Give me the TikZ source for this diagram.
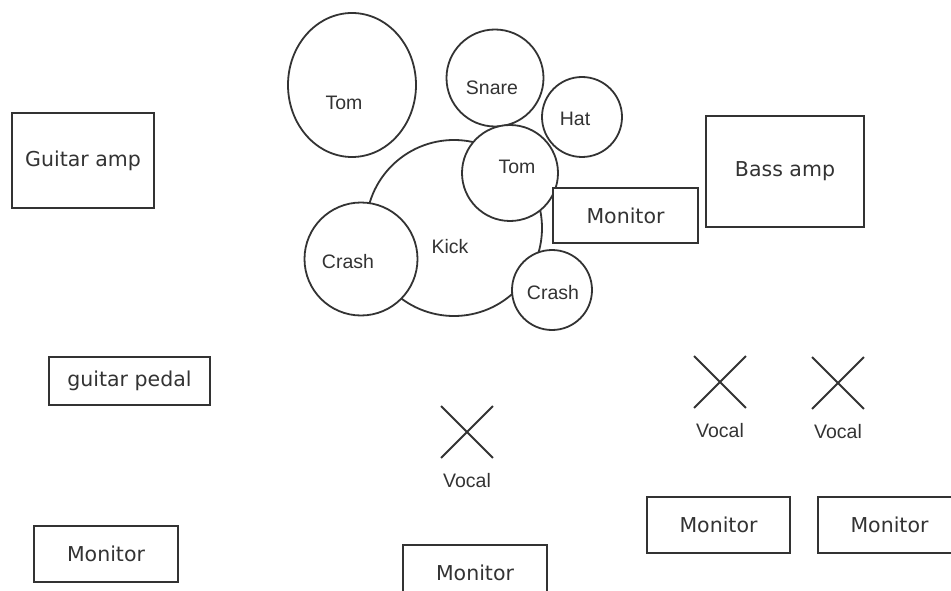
\documentclass[tikz,border=0pt]{standalone}
\usepackage{fontspec}
\setmainfont{DejaVu Sans}
\newfontfamily\drumfont{Liberation Sans}
\usepackage{tikz}
\usetikzlibrary{shapes.geometric}
\usetikzlibrary{shapes.misc}
\usetikzlibrary{positioning}
\definecolor{cline}{rgb}{0.2, 0.2, 0.2}

\begin{document}
\begin{tikzpicture}[x=1pt, y=-1pt,
  gear/.style={draw=cline, line width=1.8pt, fill=white, rectangle, inner sep=0pt, text=cline, font=\fontsize{20.5}{24}\selectfont},
  drum/.style={draw=cline, line width=1.8pt, fill=white, circle, inner sep=0pt},
  drumtext/.style={inner sep=0pt, text=cline, font=\drumfont\fontsize{19.5}{23}\selectfont},
  mic/.style={draw=cline, line width=1.8pt, cross out, inner sep=0pt, minimum size=50pt}]
  \useasboundingbox (0, 0) rectangle (951, 591);
  \clip (0, 0) rectangle (951, 591);

  % drum kit
  \node [drum, ellipse, minimum width=128pt, minimum height=144pt] (tomhi) at (352, 85) {};
  \node [drum, minimum size=97pt] (snare) at (495, 78) {};
  \node [drum, minimum size=80pt] (hat) at (582, 117) {};
  \node [drum, minimum size=176pt] (kick) at (454, 228) {};
  \node [drum, minimum size=96pt] (tomlo) at (510, 173) {};
  \node [drum, minimum size=113pt] (crashl) at (361, 259) {};
  \node [drum, minimum size=80pt] (crashr) at (552, 290) {};
  % drum names
  \node [drumtext] (tomhi-t) at (344, 103) {Tom};
  \node [drumtext] (snare-t) at (492, 88) {Snare};
  \node [drumtext] (hat-t) at (575, 119) {Hat};
  \node [drumtext] (kick-t) at (450, 247) {Kick};
  \node [drumtext] (tomlo-t) at (517, 167) {Tom};
  \node [drumtext] (crashl-t) at (348, 262) {Crash};
  \node [drumtext] (crashr-t) at (553, 293) {Crash};

  % amps and pedal
  \node [gear, minimum width=142pt, minimum height=95pt] (gamp) at (83, 160.5) {Guitar amp};
  \node [gear, minimum width=161pt, minimum height=48pt] (pedal) at (129.5, 381) {guitar pedal};
  \node [gear, minimum width=158pt, minimum height=111pt] (bamp) at (785, 171.5) {Bass amp};

  % monitors
  \node [gear, minimum width=145pt, minimum height=55pt] (mondrum) at (625.5, 215.5) {Monitor};
  \node [gear, minimum width=144pt, minimum height=56pt] (monl) at (106, 554) {Monitor};
  \node [gear, minimum width=144pt, minimum height=56pt] (monc) at (475, 573) {Monitor};
  \node [gear, minimum width=143pt, minimum height=56pt] (monr) at (718.5, 525) {Monitor};
  \node [gear, minimum width=143pt, minimum height=56pt] (monrr) at (889.5, 525) {Monitor};

  % vocal mics
  \node [mic] (vocc) at (467, 432) {};
  \node [mic] (vocr) at (720, 382) {};
  \node [mic] (vocrr) at (838, 383) {};
  \node [drumtext, below=15.5pt of vocc] (vocc-t) {Vocal};
  \node [drumtext, below=15.5pt of vocr] (vocr-t) {Vocal};
  \node [drumtext, below=15.5pt of vocrr] (vocrr-t) {Vocal};
\end{tikzpicture}
\end{document}
